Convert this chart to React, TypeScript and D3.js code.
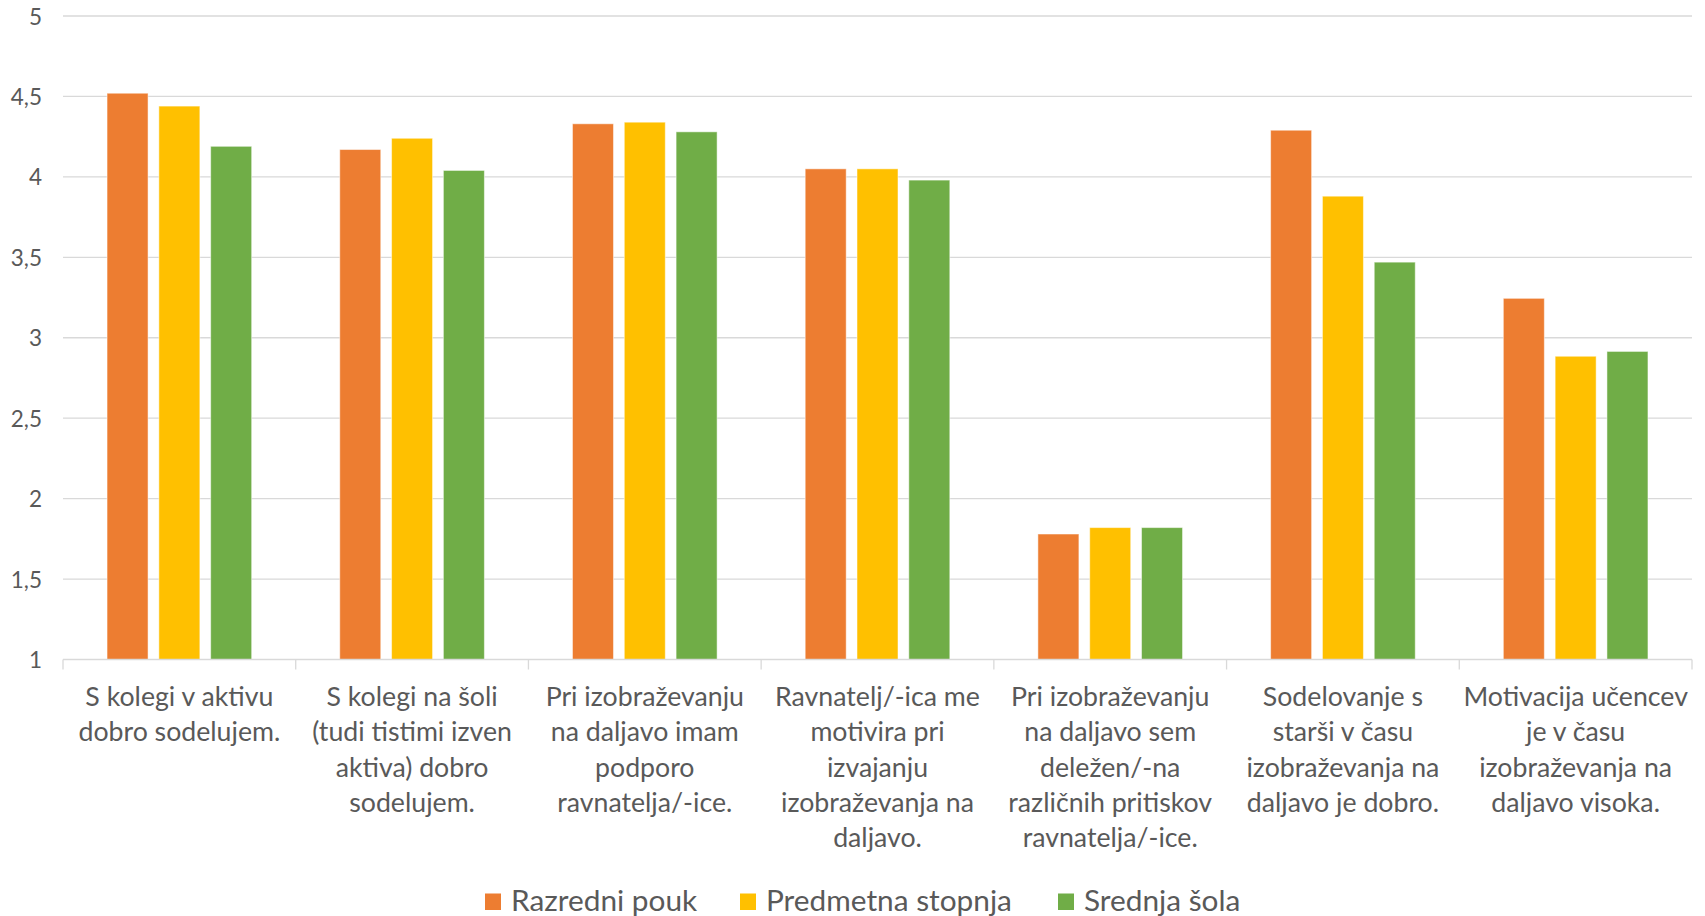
import React from "react";
import * as d3 from "d3";

const categories: string[][] = [
  ["S kolegi v aktivu", "dobro sodelujem."],
  ["S kolegi na šoli", "(tudi tistimi izven", "aktiva) dobro", "sodelujem."],
  ["Pri izobraževanju", "na daljavo imam", "podporo", "ravnatelja/-ice."],
  ["Ravnatelj/-ica me", "motivira pri", "izvajanju", "izobraževanja na", "daljavo."],
  ["Pri izobraževanju", "na daljavo sem", "deležen/-na", "različnih pritiskov", "ravnatelja/-ice."],
  ["Sodelovanje s", "starši v času", "izobraževanja na", "daljavo je dobro."],
  ["Motivacija učencev", "je v času", "izobraževanja na", "daljavo visoka."],
];

const seriesNames = ["Razredni pouk", "Predmetna stopnja", "Srednja šola"];
const seriesColors = ["#ED7D31", "#FFC000", "#70AD47"];

const razredniPouk = [4.52, 4.17, 4.33, 4.05, 1.78, 4.29, 3.245];
const predmetnaStopnja = [4.44, 4.24, 4.34, 4.05, 1.82, 3.88, 2.885];
const srednjaSola = [4.19, 4.04, 4.28, 3.98, 1.82, 3.47, 2.915];

const yTicks = [1, 1.5, 2, 2.5, 3, 3.5, 4, 4.5, 5];
const yTickLabels = ["1", "1,5", "2", "2,5", "3", "3,5", "4", "4,5", "5"];

const W = 1705;
const H = 916;
const FONT = "Lato, 'Open Sans', sans-serif";
const TEXT = "#595959";

export default function App() {
  const left = 63;
  const right = 1692;
  const top = 16;
  const bottom = 659.5;
  const seriesData = [razredniPouk, predmetnaStopnja, srednjaSola];
  const catIdx = categories.map((_, i) => String(i));

  const x0 = d3.scaleBand<string>().domain(catIdx).range([left, right]).padding(0);
  const x1 = d3
    .scaleBand<string>()
    .domain(seriesNames)
    .range([0, x0.bandwidth()])
    .paddingInner(0.2085)
    .paddingOuter(0.85);
  const y = d3.scaleLinear().domain([1, 5]).range([bottom, top]);

  const legendItems = [
    { sq: 485, tx: 511 },
    { sq: 740, tx: 766 },
    { sq: 1058, tx: 1084 },
  ];

  return (
    <svg
      width={W}
      height={H}
      style={{ position: "absolute", left: 0, top: 0, background: "#fff" }}
      fontFamily={FONT}
    >
      <rect x={0} y={0} width={W} height={H} fill="#fff" />
      {yTicks.map((t, i) => (
        <g key={"g" + i}>
          {t !== 1 && (
            <line x1={left} x2={right} y1={y(t)} y2={y(t)} stroke="#d9d9d9" strokeWidth={1.3} />
          )}
          <text
            x={42}
            y={y(t)}
            textAnchor="end"
            dominantBaseline="central"
            fontSize={22.5}
            fill={TEXT}
          >
            {yTickLabels[i]}
          </text>
        </g>
      ))}
      {seriesData.map((vals, s) =>
        vals.map((v, c) => (
          <rect
            key={`b${s}-${c}`}
            x={(x0(String(c)) as number) + (x1(seriesNames[s]) as number)}
            y={y(v)}
            width={x1.bandwidth()}
            height={y(1) - y(v)}
            fill={seriesColors[s]}
            stroke="#fff"
            strokeOpacity={0.5}
            strokeWidth={1}
          />
        ))
      )}
      <line x1={left} x2={right} y1={bottom} y2={bottom} stroke="#d9d9d9" strokeWidth={1.5} />
      {[...catIdx.map((c) => x0(c) as number), right].map((xv, i) => (
        <line key={"t" + i} x1={xv} x2={xv} y1={bottom} y2={bottom + 10} stroke="#d9d9d9" strokeWidth={1.3} />
      ))}
      {categories.map((lines, c) => (
        <text
          key={"c" + c}
          x={(x0(String(c)) as number) + x0.bandwidth() / 2}
          y={706}
          textAnchor="middle"
          fontSize={26.7}
          fill={TEXT}
        >
          {lines.map((ln, k) => (
            <tspan key={k} x={(x0(String(c)) as number) + x0.bandwidth() / 2} dy={k === 0 ? 0 : 35.3}>
              {ln}
            </tspan>
          ))}
        </text>
      ))}
      {seriesNames.map((n, s) => (
        <g key={"l" + s}>
          <rect x={legendItems[s].sq} y={893.5} width={16} height={16.5} fill={seriesColors[s]} />
          <text x={legendItems[s].tx} y={910.5} fontSize={29.8} fill={TEXT}>
            {n}
          </text>
        </g>
      ))}
    </svg>
  );
}
